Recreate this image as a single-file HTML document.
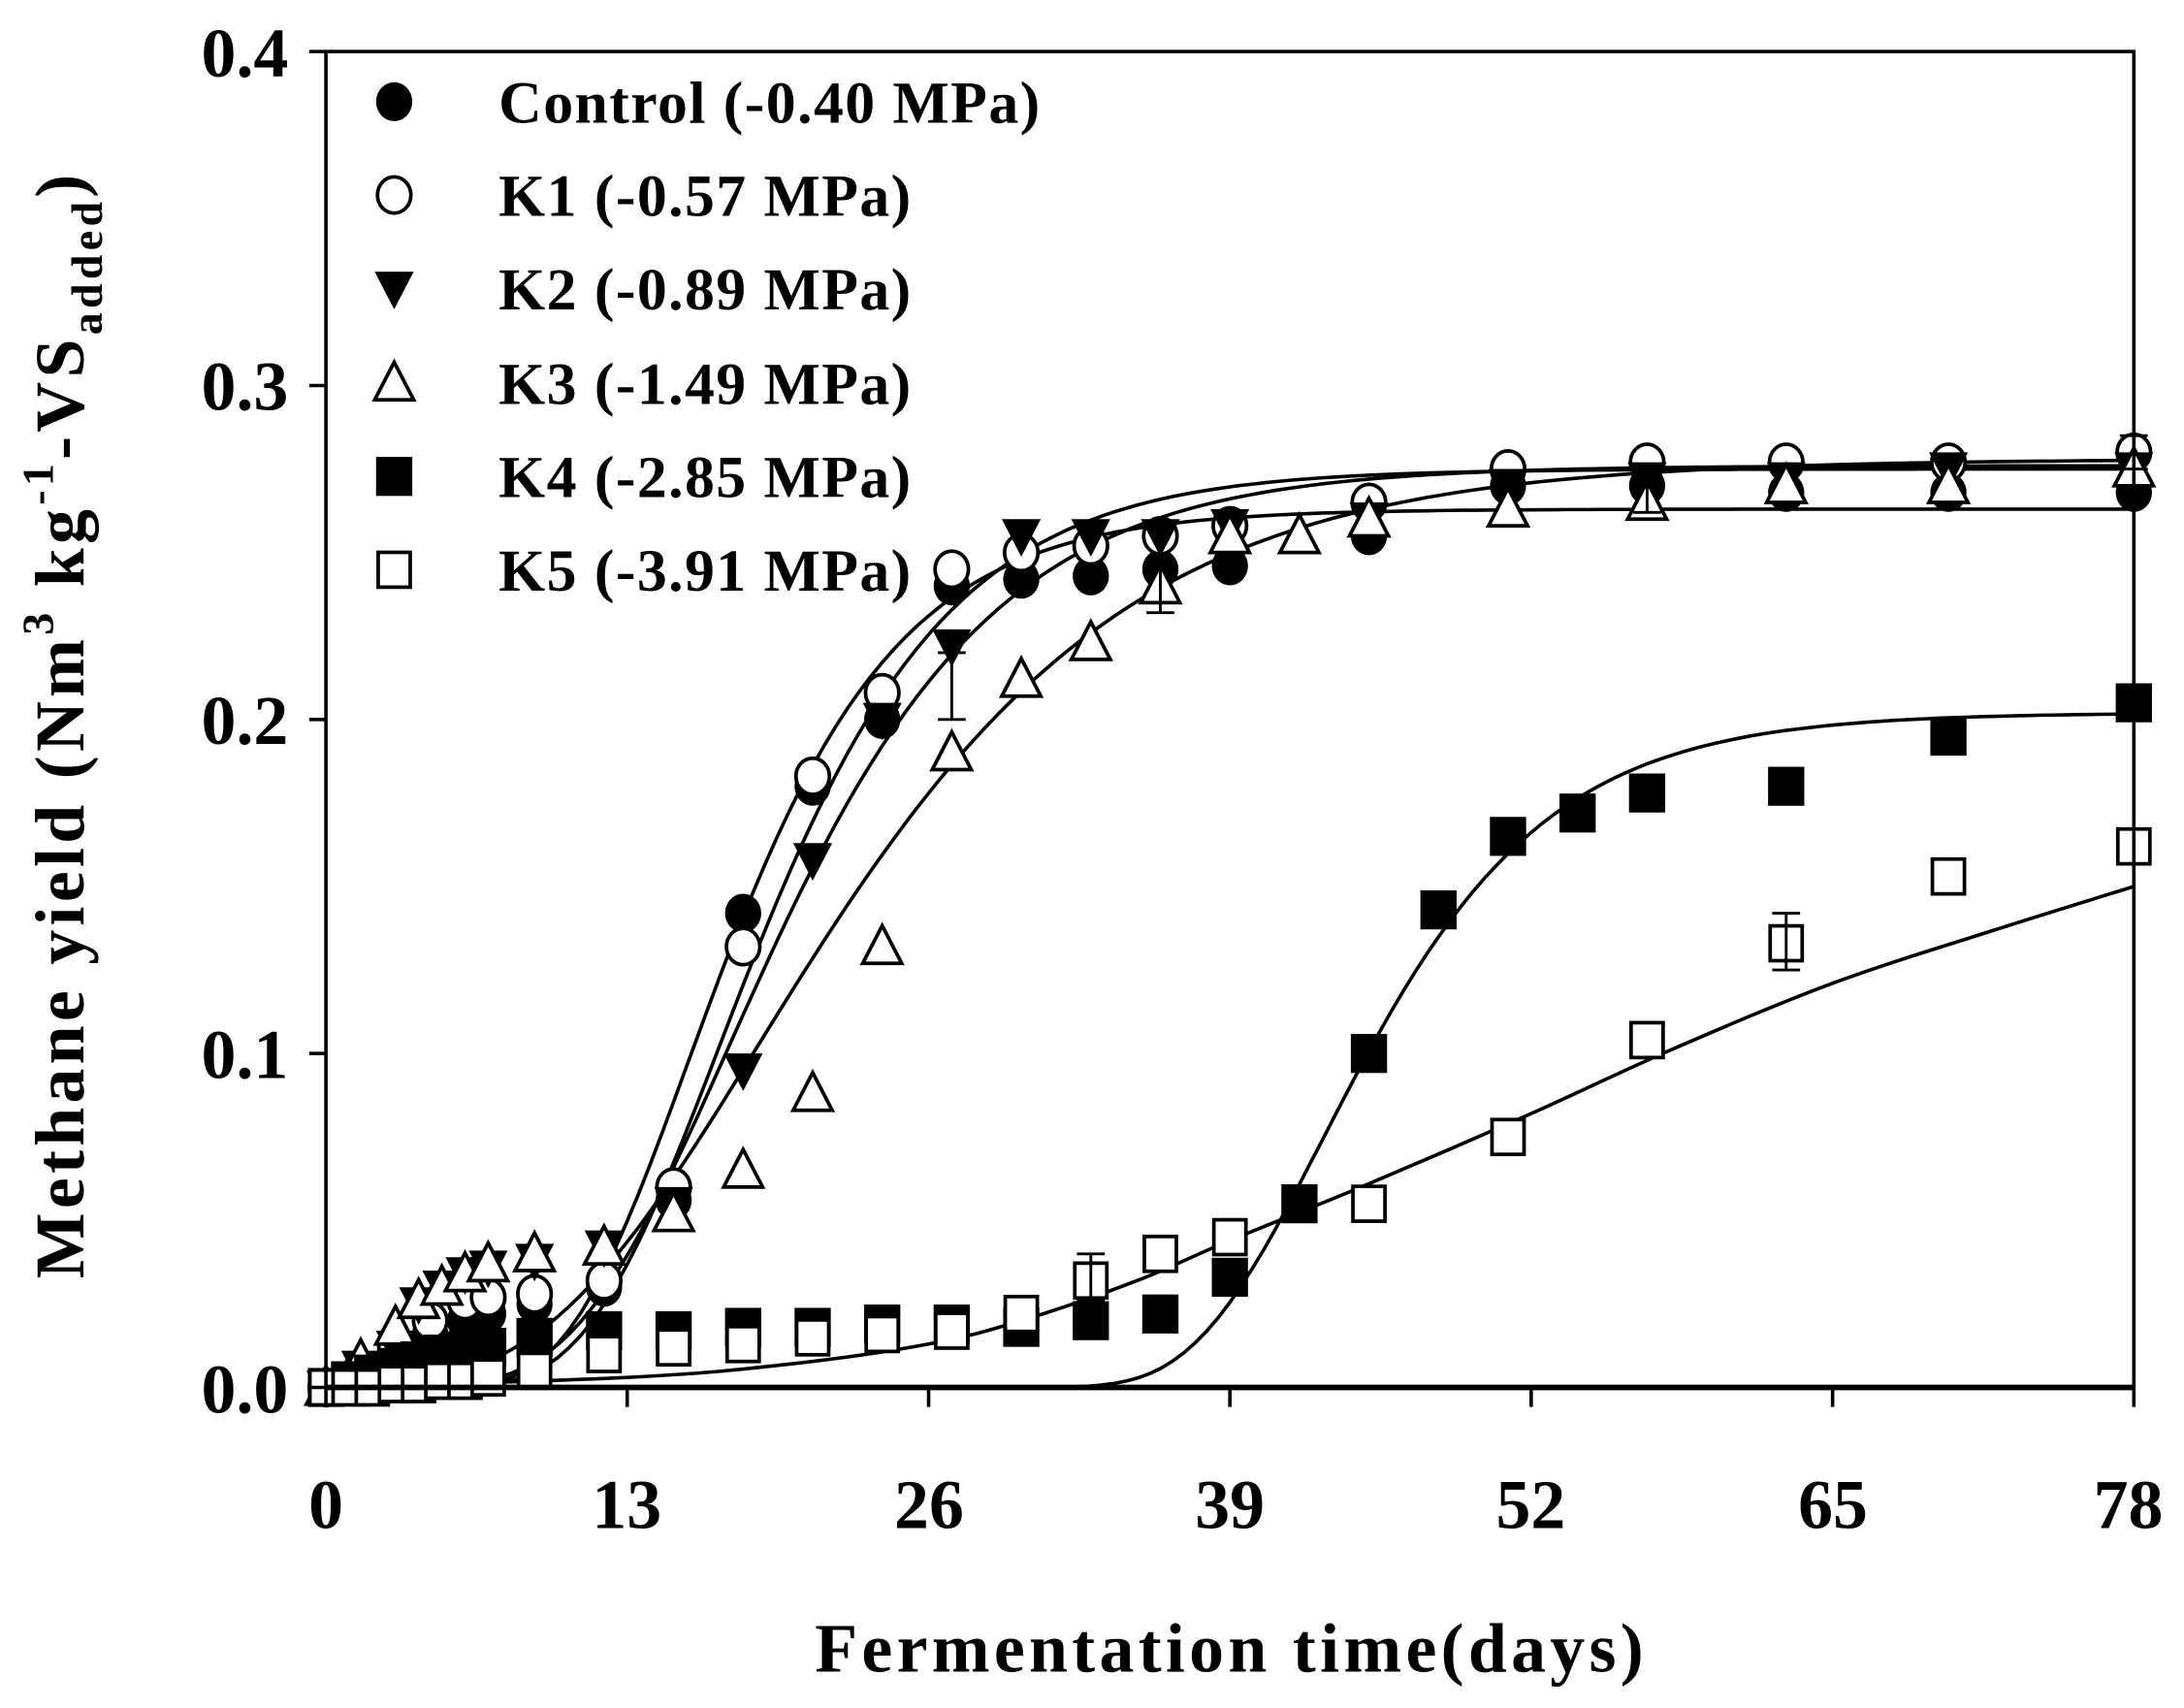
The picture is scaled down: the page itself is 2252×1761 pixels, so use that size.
<!DOCTYPE html>
<html><head><meta charset="utf-8"><style>
html,body{margin:0;padding:0;background:#fff;}
svg{display:block;}
text{font-family:"Liberation Serif",serif;font-weight:bold;fill:#000;}
</style></head><body>
<svg id="s" width="2252" height="1761" viewBox="0 0 1568 1226.1" preserveAspectRatio="none" xmlns="http://www.w3.org/2000/svg">
<rect width="1568" height="1226.1" fill="#fff"/>
<g id="plot"></g>
<rect x="234" y="37" width="1298" height="959" fill="none" stroke="#000" stroke-width="2.5"/>
<line x1="234" y1="996" x2="1532" y2="996" stroke="#000" stroke-width="4"/>
<g stroke="#000" stroke-width="2.5">
<line x1="222" y1="37" x2="234" y2="37"/><line x1="222" y1="276.75" x2="234" y2="276.75"/>
<line x1="222" y1="516.5" x2="234" y2="516.5"/><line x1="222" y1="756.25" x2="234" y2="756.25"/>
<line x1="222" y1="996" x2="234" y2="996"/>
<line x1="234" y1="996" x2="234" y2="1010"/><line x1="450.3" y1="996" x2="450.3" y2="1010"/>
<line x1="666.7" y1="996" x2="666.7" y2="1010"/><line x1="883" y1="996" x2="883" y2="1010"/>
<line x1="1099.3" y1="996" x2="1099.3" y2="1010"/><line x1="1315.7" y1="996" x2="1315.7" y2="1010"/>
<line x1="1532" y1="996" x2="1532" y2="1010"/>
</g>
<g font-size="50" text-anchor="end">
<text x="207" y="55">0.4</text><text x="207" y="294">0.3</text><text x="207" y="534">0.2</text>
<text x="207" y="774">0.1</text><text x="207" y="1014">0.0</text>
</g>
<g font-size="50" text-anchor="middle">
<text x="234" y="1097">0</text><text x="450" y="1097">13</text><text x="667" y="1097">26</text>
<text x="883" y="1097">39</text><text x="1099" y="1097">52</text><text x="1316" y="1097">65</text>
<text x="1528" y="1097">78</text>
</g>
<text x="884" y="1200" font-size="50" text-anchor="middle" letter-spacing="3">Fermentation time(days)</text>
<text transform="translate(60,520) rotate(-90)" font-size="50" text-anchor="middle" letter-spacing="3">Methane yield (Nm<tspan font-size="32" dy="-22">3</tspan><tspan dy="22"> kg</tspan><tspan font-size="32" dy="-22">-1</tspan><tspan dy="22">-VS</tspan><tspan font-size="32" dy="13">added</tspan><tspan dy="-13">)</tspan></text>
<g font-size="43" letter-spacing="1">
<text x="358" y="88">Control (-0.40 MPa)</text>
<text x="358" y="155">K1 (-0.57 MPa)</text>
<text x="358" y="222">K2 (-0.89 MPa)</text>
<text x="358" y="290">K3 (-1.49 MPa)</text>
<text x="358" y="357">K4 (-2.85 MPa)</text>
<text x="358" y="424">K5 (-3.91 MPa)</text>
</g>
<g id="leg"></g>
</svg>
<script>
var NS="http://www.w3.org/2000/svg";
function X(d){return 234+d*16.641;}
function Y(v){return 996-v*2397.5;}
function el(p,tag,a){var e=document.createElementNS(NS,tag);for(var k in a)e.setAttribute(k,a[k]);p.appendChild(e);return e;}
var P=document.getElementById('plot'),L=document.getElementById('leg');
function gomp(M,R,l){return function(t){return M*Math.exp(-Math.exp(R*Math.E/M*(l-t)+1));};}
function curve(f){var d="";for(var t=0;t<=78;t+=0.5){d+=(t?"L":"M")+X(t).toFixed(1)+","+Y(f(t)).toFixed(1);}el(P,'path',{d:d,fill:'none',stroke:'#000','stroke-width':2.5});}
curve(gomp(.263,.019,10.5));
curve(gomp(.275,.018,11.3));
curve(gomp(.276,.0155,10.8));
curve(gomp(.278,.0112,9.5));
curve(gomp(.202,.0135,37.5));
var k5=[[0,0],[13,.003],[20,.007],[26,.013],[30,.02],[35,.032],[39,.044],[45,.061],[52,.082],[58,.101],[65,.121],[72,.137],[78,.15]];
(function(){var d="M"+X(0)+","+Y(0);for(var i=0;i<k5.length-1;i++){var p0=k5[Math.max(0,i-1)],p1=k5[i],p2=k5[i+1],p3=k5[Math.min(k5.length-1,i+2)];
var c1x=X(p1[0])+(X(p2[0])-X(p0[0]))/6,c1y=Y(p1[1])+(Y(p2[1])-Y(p0[1]))/6,c2x=X(p2[0])-(X(p3[0])-X(p1[0]))/6,c2y=Y(p2[1])-(Y(p3[1])-Y(p1[1]))/6;
d+="C"+c1x+","+c1y+" "+c2x+","+c2y+" "+X(p2[0])+","+Y(p2[1]);}el(P,'path',{d:d,fill:'none',stroke:'#000','stroke-width':2.5});})();
function mk(p,type,x,y){var r=14;
if(type==0)el(p,'ellipse',{cx:x,cy:y,rx:r-1,ry:r,fill:'#000'});
else if(type==1)el(p,'ellipse',{cx:x,cy:y,rx:r-2,ry:r-1,fill:'#fff',stroke:'#000','stroke-width':2.6});
else if(type==2)el(p,'polygon',{points:(x-14)+","+(y-12)+" "+(x+14)+","+(y-12)+" "+x+","+(y+15),fill:'#000'});
else if(type==3)el(p,'polygon',{points:(x-14)+","+(y+12)+" "+(x+14)+","+(y+12)+" "+x+","+(y-15),fill:'#fff',stroke:'#000','stroke-width':2.6});
else if(type==4)el(p,'rect',{x:x-13,y:y-14,width:26,height:28,fill:'#000'});
else el(p,'rect',{x:x-11.5,y:y-12.5,width:23,height:25,fill:'#fff',stroke:'#000','stroke-width':2.6});}
var D=[
[0,[[0,0],[1.5,.004],[3,.01],[4.5,.016],[6,.02],[7,.022],[9,.025],[12,.03],[15,.056],[18,.142],[21,.18],[24,.2],[27,.24],[30,.242],[33,.243],[36,.245],[39,.246],[45,.255],[51,.27],[57,.27],[63,.268],[70,.268],[78,.268]]],
[1,[[0,0],[1.5,.005],[3,.012],[4.5,.02],[6,.026],[7,.027],[9,.028],[12,.032],[15,.06],[18,.132],[21,.183],[24,.208],[27,.245],[30,.25],[33,.252],[36,.255],[39,.258],[45,.265],[51,.275],[57,.277],[63,.277],[70,.277],[78,.28]]],
[2,[[0,0],[1.5,.006],[3,.012],[4,.025],[5,.03],[6,.034],[7,.036],[9,.038],[12,.042],[15,.055],[18,.095],[21,.158],[24,.2],[27,.222],[30,.255],[33,.255],[36,.255],[39,.258],[45,.26],[51,.27],[57,.272],[63,.272],[70,.275],[78,.275]]],
[3,[[0,0],[1.5,.008],[3,.018],[4,.026],[5,.03],[6,.034],[7,.037],[9,.04],[12,.042],[15,.052],[18,.065],[21,.088],[24,.132],[27,.19],[30,.212],[33,.223],[36,.24],[39,.255],[42,.255],[45,.26],[51,.263],[57,.265],[63,.27],[70,.27],[78,.275]]],
[4,[[0,0],[1,.002],[2,.004],[3,.006],[4,.008],[5,.01],[6,.011],[7,.012],[9,.015],[12,.017],[15,.017],[18,.018],[21,.018],[24,.019],[27,.019],[30,.018],[33,.02],[36,.022],[39,.033],[42,.055],[45,.1],[48,.143],[51,.165],[54,.172],[57,.178],[63,.18],[70,.195],[78,.205]]],
[5,[[0,0],[1,0],[2,0],[3,.001],[4,.001],[5,.002],[6,.002],[7,.003],[9,.005],[12,.01],[15,.012],[18,.013],[21,.015],[24,.016],[27,.017],[30,.022],[33,.032],[36,.04],[39,.045],[45,.055],[51,.075],[57,.104],[63,.133],[70,.153],[78,.162]]]];
D.forEach(function(s){s[1].forEach(function(p){mk(P,s[0],X(p[0]),Y(p[1]));});});
[[27,.21,.22,.2],[36,.24,.247,.232],[63,.133,.142,.125],[33,.032,.04,.026],[57,.268,.272,.262],[78,.28,.285,.275]].forEach(function(e){var x=X(e[0]);
el(P,'line',{x1:x,y1:Y(e[2]),x2:x,y2:Y(e[3]),stroke:'#000','stroke-width':2});
el(P,'line',{x1:x-10,y1:Y(e[2]),x2:x+10,y2:Y(e[2]),stroke:'#000','stroke-width':2});
el(P,'line',{x1:x-10,y1:Y(e[3]),x2:x+10,y2:Y(e[3]),stroke:'#000','stroke-width':2});});
var ly=[73,140,207,275,342,409];for(var i=0;i<6;i++)mk(L,i,283,ly[i]);
</script>
</body></html>
